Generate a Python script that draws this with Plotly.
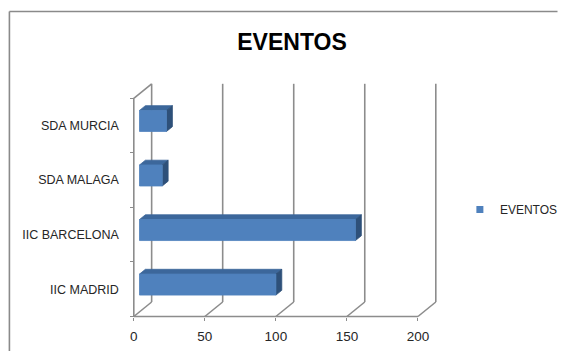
import plotly.graph_objects as go

# ---------------- data ----------------
categories = ["IIC MADRID", "IIC BARCELONA", "SDA MALAGA", "SDA MURCIA"]
eventos = [96, 152, 16, 19]
x_ticks = [0, 50, 100, 150, 200]
series_name = "EVENTOS"
chart_title = "EVENTOS"

# ---------------- layout constants (pixels) ----------------
W, H = 563, 351
PX_X0 = 135.0          # pixel column of value 0 on the front plane
PX_PER_UNIT = 1.4335   # pixels per value unit
PX_BASE = 316.5        # pixel row of the front baseline
PX_PER_CAT = 54.55     # pixels per category
DEPTH_PX = (18.0, 14.5)  # oblique depth offset (right, up)
BAR_F0, BAR_F1 = 0.32, 0.65  # bar depth span (fraction of wall depth)
BAR_HALF = 0.1925      # bar half thickness (category units)

FRONT = "#4F81BD"
TOP = "#3C679B"
SIDE = "#2E5079"
GRID = "#8C8C8C"
TXT = "#262626"
FONT = "Liberation Sans, Arial, sans-serif"

DX = DEPTH_PX[0] / PX_PER_UNIT
DY = DEPTH_PX[1] / PX_PER_CAT
y_lo = -0.5
y_hi = len(categories) - 0.5
x_max = max(x_ticks)

xr = [-PX_X0 / PX_PER_UNIT, (W - PX_X0) / PX_PER_UNIT]
yr = [y_lo - (H - PX_BASE) / PX_PER_CAT, y_lo + PX_BASE / PX_PER_CAT]

# ---------------- walls / grid ----------------
gx, gy = [], []
def seg(pts):
    for p in pts:
        gx.append(p[0]); gy.append(p[1])
    gx.append(None); gy.append(None)

for t in x_ticks:
    # back wall vertical gridline
    seg([(t + DX, y_lo + DY), (t + DX, y_hi + DY)])
    # floor diagonal
    seg([(t, y_lo), (t + DX, y_lo + DY)])
# front baseline
seg([(x_ticks[0], y_lo), (x_max, y_lo)])
# left wall front edge and top diagonal
seg([(0, y_lo), (0, y_hi), (DX, y_hi + DY)])

fig = go.Figure()
fig.add_trace(go.Scatter(x=gx, y=gy, mode="lines",
                         line=dict(color=GRID, width=1.6),
                         showlegend=False, hoverinfo="skip"))

# ---------------- 3D bars ----------------
fx, fy, tx, ty, sx, sy = [], [], [], [], [], []
for i, v in enumerate(eventos):
    x0f, y0f = BAR_F0 * DX, BAR_F0 * DY
    x0b, y0b = BAR_F1 * DX, BAR_F1 * DY
    lo, hi = i - BAR_HALF, i + BAR_HALF
    # front face
    fx += [x0f, v + x0f, v + x0f, x0f, x0f, None]
    fy += [lo + y0f, lo + y0f, hi + y0f, hi + y0f, lo + y0f, None]
    # top face
    tx += [x0f, v + x0f, v + x0b, x0b, x0f, None]
    ty += [hi + y0f, hi + y0f, hi + y0b, hi + y0b, hi + y0f, None]
    # right side face
    sx += [v + x0f, v + x0b, v + x0b, v + x0f, v + x0f, None]
    sy += [lo + y0f, lo + y0b, hi + y0b, hi + y0f, lo + y0f, None]

for xs, ys, col in [(tx, ty, TOP), (sx, sy, SIDE), (fx, fy, FRONT)]:
    fig.add_trace(go.Scatter(x=xs, y=ys, mode="lines", fill="toself",
                             fillcolor=col, line=dict(color=col, width=0.8),
                             showlegend=False, hoverinfo="skip"))

# legend entry
fig.add_trace(go.Scatter(x=[None], y=[None], mode="markers", name=series_name,
                         marker=dict(symbol="square", size=7, color=FRONT),
                         showlegend=True))

fig.update_layout(
    width=W, height=H,
    margin=dict(l=0, r=0, t=0, b=0),
    paper_bgcolor="white", plot_bgcolor="white",
    font=dict(family=FONT, color=TXT, size=12),
    title=dict(text=chart_title, x=292 / W, y=1 - 41.5 / H,
               xanchor="center", yanchor="middle",
               xref="container", yref="container",
               font=dict(size=23, family=FONT, color="#000000", weight="bold")),
    showlegend=True,
    legend=dict(x=464 / W, y=1 - 209.5 / H, xanchor="left", yanchor="middle",
                bgcolor="rgba(0,0,0,0)", font=dict(size=12, color=TXT)),
    xaxis=dict(range=xr, anchor="free", position=(H - PX_BASE) / H,
               tickmode="array", tickvals=x_ticks,
               ticks="outside", ticklen=3, tickcolor=GRID,
               ticklabelstandoff=4,
               showgrid=False, zeroline=False, showline=False,
               tickfont=dict(size=13.5, color=TXT), fixedrange=True),
    yaxis=dict(range=yr, anchor="free", position=PX_X0 / W,
               tickmode="array", tickvals=list(range(len(categories))),
               ticktext=categories, ticks="",
               minor=dict(tickmode="array",
                          tickvals=[y_lo + k for k in range(len(categories) + 1)],
                          ticks="outside", ticklen=4, tickcolor=GRID),
               ticklabelstandoff=15,
               showgrid=False, zeroline=False, showline=False,
               tickfont=dict(size=12.5, color=TXT), fixedrange=True),
    shapes=[
        dict(type="line", xref="paper", yref="paper",
             x0=9.5 / W, x1=9.5 / W, y0=0, y1=1 - 11.5 / H,
             line=dict(color="#8A8A8A", width=1.6)),
        dict(type="line", xref="paper", yref="paper",
             x0=9.5 / W, x1=(W - 0.5) / W, y0=1 - 11.5 / H, y1=1 - 11.5 / H,
             line=dict(color="#8A8A8A", width=1.6)),
    ],
)

fig.write_html("out.html", config={"displayModeBar": False})
